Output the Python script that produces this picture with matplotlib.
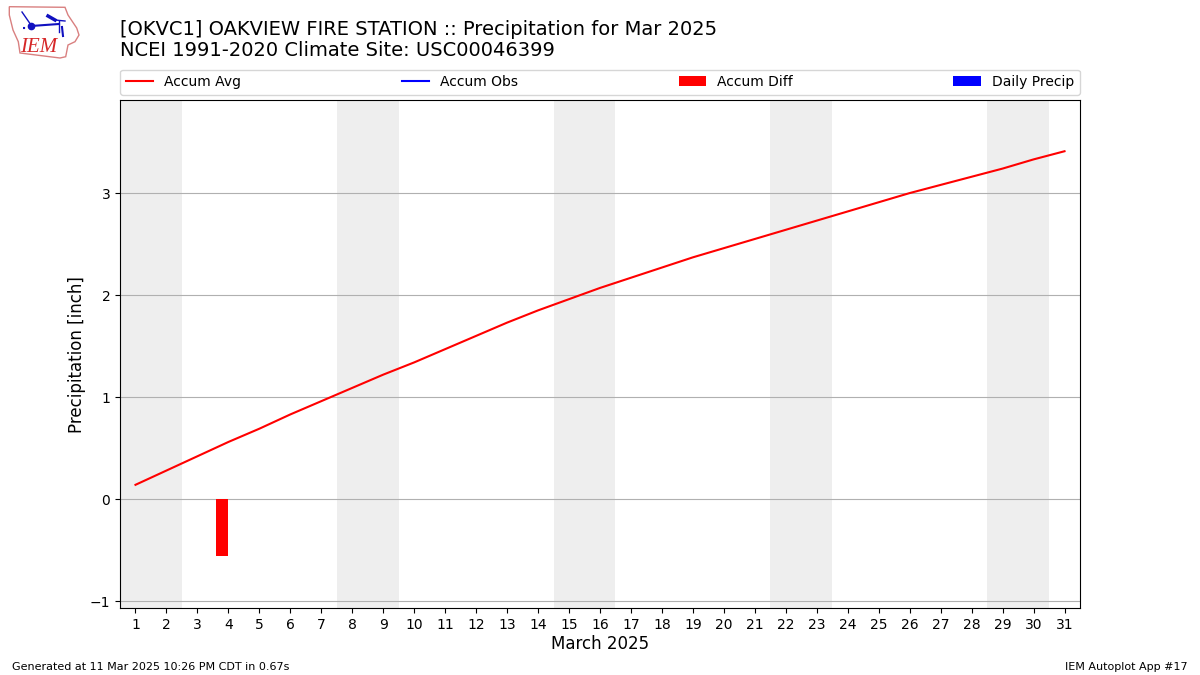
import matplotlib
matplotlib.use("Agg")
import matplotlib.pyplot as plt
from matplotlib.patches import Polygon

days = list(range(1, 32))
accum_avg = [0.14, 0.28, 0.42, 0.56, 0.69, 0.83, 0.96, 1.09, 1.22, 1.34, 1.47, 1.60, 1.73, 1.85, 1.96,
             2.07, 2.17, 2.27, 2.37, 2.46, 2.55, 2.64, 2.73, 2.82, 2.91, 3.00, 3.08, 3.16, 3.24, 3.33, 3.41]
diff_days = [4]
accum_diff = [-0.56]
weekend_starts = [0.5, 7.5, 14.5, 21.5, 28.5]
yticks = [-1, 0, 1, 2, 3]

# logo outline, in pixels of the top left corner
state_x = [9.3, 65, 68, 76.7, 79, 75, 68, 65.7, 60, 20, 18.3, 13, 9.3]
state_y = [6.7, 7.3, 15, 28, 35, 41.7, 45, 56.7, 58, 53, 41.7, 30, 15]

fig = plt.figure(figsize=(12, 6.75), dpi=100)
ax = fig.add_axes([0.1, 0.0989, 0.8, 0.7526])

for start in weekend_starts:
    ax.axvspan(start, start + 2, color="#eeeeee", lw=0, zorder=0)

ax.plot(days, accum_avg, color="r", label="Accum Avg", zorder=3)
ax.plot([], [], color="b", label="Accum Obs")
ax.bar(diff_days, accum_diff, width=-0.4, align="edge", color="r", label="Accum Diff", zorder=3)
ax.bar([0], [0], color="b", label="Daily Precip")

ax.set_xlim(0.5, 31.5)
ax.set_ylim(-1.07, 3.91)
ax.set_xticks(days)
ax.set_yticks(yticks)
ax.yaxis.grid(True, color="#b0b0b0", zorder=1)
ax.set_axisbelow(True)
ax.set_xlabel("March 2025", fontsize=12, labelpad=2)
ax.set_ylabel("Precipitation [inch]", fontsize=12, labelpad=3)

handles, labels = ax.get_legend_handles_labels()
ax.legend(handles, labels, ncol=4, mode="expand", loc="lower left",
          bbox_to_anchor=(0, 1.011, 1, 0.05), borderaxespad=0, fontsize=10)

fig.text(0.1, 0.9105, "[OKVC1] OAKVIEW FIRE STATION :: Precipitation for Mar 2025\nNCEI 1991-2020 Climate Site: USC00046399",
         fontsize=14, va="bottom", linespacing=1.17)
fig.text(0.01, 0.0075, "Generated at 11 Mar 2025 10:26 PM CDT in 0.67s", fontsize=8)
fig.text(0.99, 0.0075, "IEM Autoplot App #17", fontsize=8, ha="right")

# rough IEM logo
logo = fig.add_axes([0, 1 - 60 / 675, 80 / 1200, 60 / 675])
logo.set_xlim(0, 80)
logo.set_ylim(60, 0)
logo.axis("off")
logo.add_patch(Polygon(list(zip(state_x, state_y)), closed=True, fill=False, ec="#d98080", lw=1))
logo.text(20.5, 52, "IEM", color="#d62728", fontsize=15, family="Liberation Serif", style="italic")
logo.plot([31, 59], [26, 24], color="#1010c0", lw=1.5)
logo.plot([59, 59], [21, 32], color="#1010c0", lw=1)
logo.plot([31], [26], "o", color="#1010c0", ms=4.5)
logo.plot([48, 55], [16, 20], color="#1010c0", lw=2.5)
logo.plot([55, 65], [20, 21], color="#1010c0", lw=1)
logo.plot([22, 31], [12, 25], color="#1010c0", lw=1)
logo.plot([23, 27], [28, 28], color="#1010c0", lw=1.5, ls=":")
logo.plot([62, 63], [27, 36], color="#1010c0", lw=1.5)

fig.savefig("out.png", dpi=100)
